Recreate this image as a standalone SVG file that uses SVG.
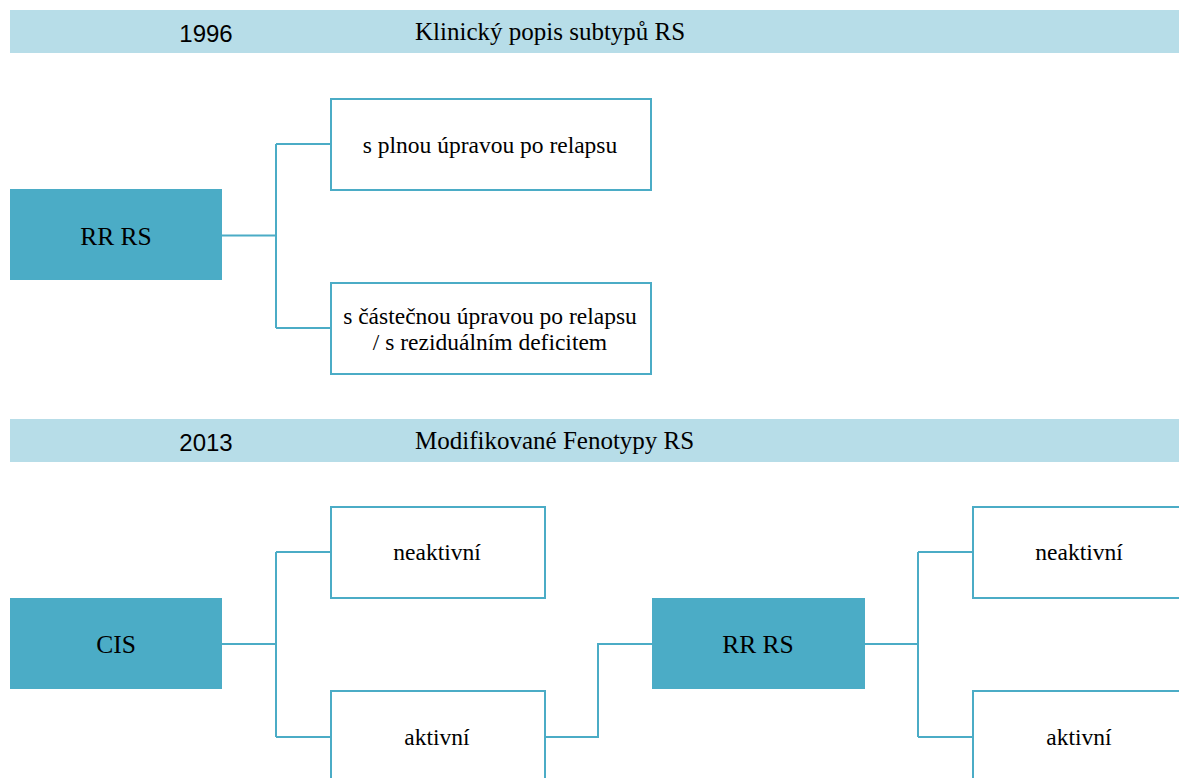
<svg xmlns="http://www.w3.org/2000/svg" width="1179" height="778" viewBox="0 0 1179 778">
<style>
.band{fill:#B7DDE8}
.year{font-size:24px;fill:#000;text-anchor:middle}
.head{font-size:25px;fill:#000}
.dark{fill:#4BACC6}
.box{fill:#fff;stroke:#4BACC6;stroke-width:2}
.t{font-size:23.5px;fill:#000;text-anchor:middle;dominant-baseline:central}
.tb{font-size:25.5px;fill:#000;text-anchor:middle;dominant-baseline:central}
.c{fill:none;stroke:#4BACC6;stroke-width:2}
</style>
<rect width="1179" height="778" fill="#fff"/>
<g id="header1996">
<rect class="band" x="10" y="10" width="1169" height="43"/>
<text class="year" x="206" y="42" font-family="Liberation Sans, sans-serif">1996</text>
<text class="head" x="415" y="40" font-family="Liberation Serif, serif">Klinický popis subtypů RS</text>
</g>
<g id="header2013">
<rect class="band" x="10" y="419" width="1169" height="43"/>
<text class="year" x="206" y="451" font-family="Liberation Sans, sans-serif">2013</text>
<text class="head" x="415" y="449" font-family="Liberation Serif, serif">Modifikované Fenotypy RS</text>
</g>
<g id="connectors">
<path class="c" d="M222,235.5 H276 M276,144 V328 M276,144 H331 M276,328 H331"/>
<path class="c" d="M222,644 H276 M276,552 V737 M276,552 H331 M276,737 H331"/>
<path class="c" d="M545,737 H598 V644 H652"/>
<path class="c" d="M865,644 H918 M918,552 V737 M918,552 H973 M918,737 H973"/>
</g>
<g id="rrrs1996" font-family="Liberation Serif, serif">
<rect class="dark" x="10" y="189" width="212" height="91"/>
<text class="tb" x="116" y="236">RR RS</text>
</g>
<g id="plna" font-family="Liberation Serif, serif">
<rect class="box" x="331" y="99" width="320" height="91"/>
<text class="t" x="490" y="145">s plnou úpravou po relapsu</text>
</g>
<g id="castecna" font-family="Liberation Serif, serif">
<rect class="box" x="331" y="283" width="320" height="91"/>
<text class="t" x="490" y="316">s částečnou úpravou po relapsu</text>
<text class="t" x="490" y="342">/ s reziduálním deficitem</text>
</g>
<g id="cis" font-family="Liberation Serif, serif">
<rect class="dark" x="10" y="598" width="212" height="91"/>
<text class="tb" x="116" y="644">CIS</text>
</g>
<g id="cis-neaktivni" font-family="Liberation Serif, serif">
<rect class="box" x="331" y="507" width="214" height="91"/>
<text class="t" x="437" y="552">neaktivní</text>
</g>
<g id="cis-aktivni" font-family="Liberation Serif, serif">
<rect class="box" x="331" y="691" width="214" height="100"/>
<text class="t" x="437" y="737">aktivní</text>
</g>
<g id="rrrs2013" font-family="Liberation Serif, serif">
<rect class="dark" x="652" y="598" width="213" height="91"/>
<text class="tb" x="758" y="644">RR RS</text>
</g>
<g id="rr-neaktivni" font-family="Liberation Serif, serif">
<rect class="box" x="973" y="507" width="214" height="91"/>
<text class="t" x="1079" y="552">neaktivní</text>
</g>
<g id="rr-aktivni" font-family="Liberation Serif, serif">
<rect class="box" x="973" y="691" width="214" height="100"/>
<text class="t" x="1079" y="737">aktivní</text>
</g>
</svg>
